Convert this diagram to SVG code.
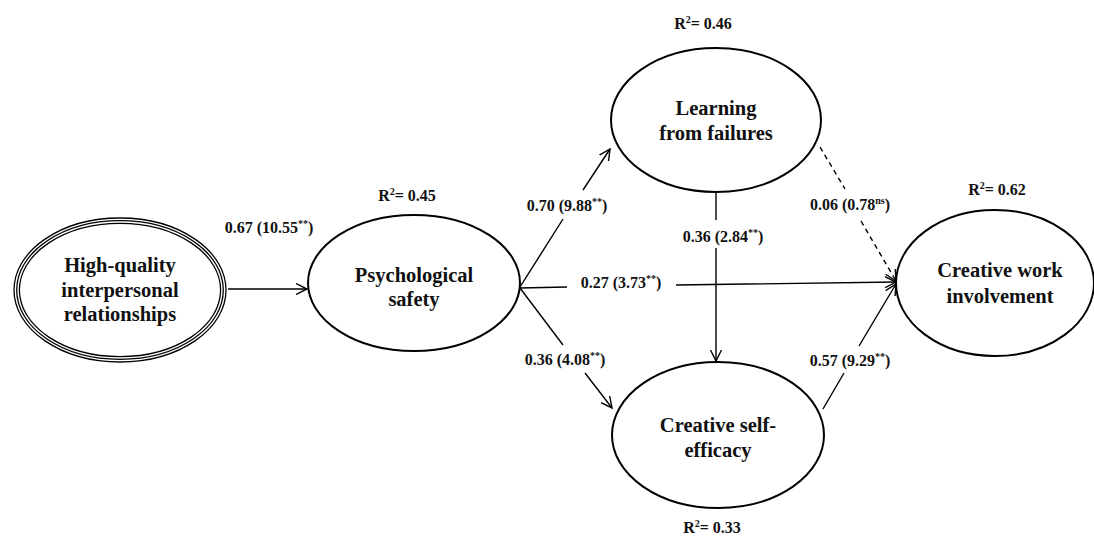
<svg xmlns="http://www.w3.org/2000/svg" width="1094" height="537" viewBox="0 0 1094 537">
<style>
.node{fill:#fff;stroke:#000;stroke-width:2}
.dbl{fill:none;stroke:#000;stroke-width:1.3}
.nt{font-family:"Liberation Serif","Times New Roman",serif;font-weight:bold;font-size:20.5px;fill:#111;text-anchor:middle}
.lb{font-family:"Liberation Serif","Times New Roman",serif;font-weight:bold;font-size:16px;fill:#111;text-anchor:middle}
.sup{font-size:10px}
.edge{fill:none;stroke:#000;stroke-width:1.4}
.dash{stroke-dasharray:5 4}
</style>
<defs>
<marker id="arr" viewBox="0 0 12 12" refX="11" refY="6" markerWidth="12" markerHeight="12" markerUnits="userSpaceOnUse" orient="auto">
<path d="M0,0.5 L11,6 L0,11.5" fill="none" stroke="#000" stroke-width="1.4"/>
</marker>
</defs>
<rect width="1094" height="537" fill="#fff"/>

<g id="connectors">
<path class="edge" d="M228,289 L307,289" marker-end="url(#arr)"/>
<path class="edge" d="M520,287 L563,219 M583,190 L610,149" marker-end="url(#arr)"/>
<path class="edge" d="M520,288 L567,287 M676,285 L896,282" marker-end="url(#arr)"/>
<path class="edge" d="M520,288 L563,345 M585,373 L612,408" marker-end="url(#arr)"/>
<path class="edge" d="M716,192 L716,220 M716,248 L716,361" marker-end="url(#arr)"/>
<path class="edge dash" d="M820,147 L845,189 M861,221 L896,281" marker-end="url(#arr)"/>
<path class="edge" d="M823,409 L844,373 M859,346 L896,284" marker-end="url(#arr)"/>
</g>

<g id="edge-labels">
<text class="lb" x="269" y="233">0.67 (10.55<tspan class="sup" dy="-6">**</tspan><tspan dy="6">)</tspan></text>
<text class="lb" x="567" y="211">0.70 (9.88<tspan class="sup" dy="-6">**</tspan><tspan dy="6">)</tspan></text>
<text class="lb" x="621" y="288">0.27 (3.73<tspan class="sup" dy="-6">**</tspan><tspan dy="6">)</tspan></text>
<text class="lb" x="723" y="242">0.36 (2.84<tspan class="sup" dy="-6">**</tspan><tspan dy="6">)</tspan></text>
<text class="lb" x="850" y="210">0.06 (0.78<tspan class="sup" dy="-6">ns</tspan><tspan dy="6">)</tspan></text>
<text class="lb" x="565" y="365">0.36 (4.08<tspan class="sup" dy="-6">**</tspan><tspan dy="6">)</tspan></text>
<text class="lb" x="850" y="366">0.57 (9.29<tspan class="sup" dy="-6">**</tspan><tspan dy="6">)</tspan></text>
</g>

<g id="node-hq">
<ellipse cx="120" cy="290" rx="106" ry="72" fill="#fff" class="dbl"/>
<ellipse class="dbl" cx="120" cy="290" rx="103.3" ry="69.3"/>
<ellipse class="dbl" cx="120" cy="290" rx="100.6" ry="66.6"/>
<text class="nt" x="120" y="272">High-quality</text>
<text class="nt" x="120" y="297">interpersonal</text>
<text class="nt" x="120" y="321">relationships</text>
</g>

<g id="node-ps">
<ellipse class="node" cx="414" cy="283" rx="106" ry="68"/>
<text class="nt" x="414" y="282">Psychological</text>
<text class="nt" x="414" y="306">safety</text>
<text class="lb" x="407" y="201">R<tspan class="sup" dy="-6">2</tspan><tspan dy="6">= 0.45</tspan></text>
</g>

<g id="node-lf">
<ellipse class="node" cx="716" cy="120" rx="105" ry="72"/>
<text class="nt" x="716" y="115">Learning</text>
<text class="nt" x="716" y="140">from failures</text>
<text class="lb" x="703" y="29">R<tspan class="sup" dy="-6">2</tspan><tspan dy="6">= 0.46</tspan></text>
</g>

<g id="node-cse">
<ellipse class="node" cx="718" cy="435" rx="106" ry="73"/>
<text class="nt" x="718" y="432">Creative self-</text>
<text class="nt" x="718" y="457">efficacy</text>
<text class="lb" x="712" y="533">R<tspan class="sup" dy="-6">2</tspan><tspan dy="6">= 0.33</tspan></text>
</g>

<g id="node-cwi">
<ellipse class="node" cx="995" cy="283" rx="99" ry="73"/>
<text class="nt" x="1000" y="277">Creative work</text>
<text class="nt" x="1000" y="303">involvement</text>
<text class="lb" x="997" y="195">R<tspan class="sup" dy="-6">2</tspan><tspan dy="6">= 0.62</tspan></text>
</g>
</svg>
